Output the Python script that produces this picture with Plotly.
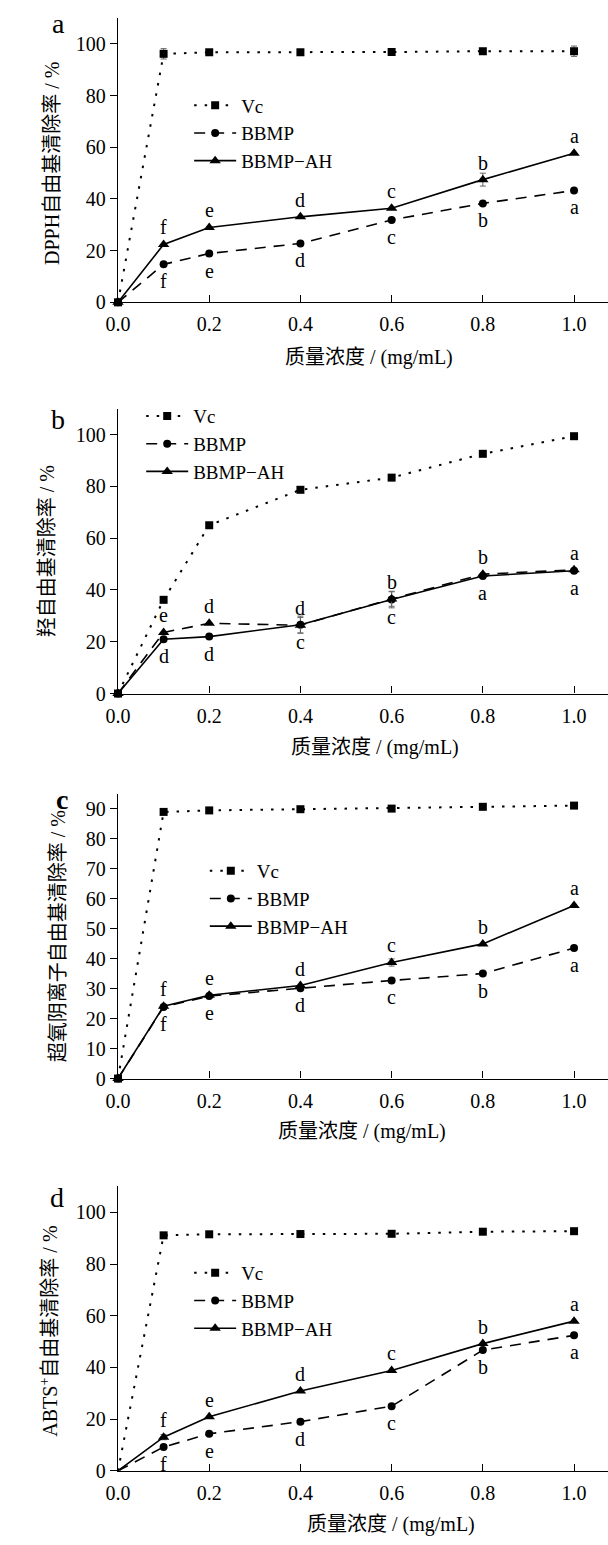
import plotly.graph_objects as go

# ---------------- data ----------------
conc = [0, 0.1, 0.2, 0.4, 0.6, 0.8, 1.0]
xtick_vals = [0.0, 0.2, 0.4, 0.6, 0.8, 1.0]
xtick_text = ["0.0", "0.2", "0.4", "0.6", "0.8", "1.0"]
series_names = ["Vc", "BBMP", "BBMP−AH"]
N = None  # no visible error bar

# (a) DPPH
a_vc = [0, 96.2, 96.8, 96.8, 96.9, 97.2, 97.2]
a_vc_err = [N, 2.0, N, N, N, N, 2.0]
a_bbmp = [0, 14.7, 18.9, 22.8, 31.9, 38.3, 43.3]
a_bbmp_err = [N, N, N, N, N, N, N]
a_ah = [0, 22.4, 29.0, 33.1, 36.4, 47.5, 57.7]
a_ah_err = [N, N, N, N, N, 2.5, N]
a_up = ["f", "e", "d", "c", "b", "a"]
a_low = ["f", "e", "d", "c", "b", "a"]

# (b) hydroxyl
b_vc = [0, 36.2, 65.0, 78.7, 83.4, 92.6, 99.4]
b_vc_err = [N, N, N, N, N, N, N]
b_bbmp = [0, 21.0, 22.0, 26.6, 36.3, 45.4, 47.4]
b_bbmp_err = [N, N, N, 3.3, 3.2, N, N]
b_ah = [0, 23.6, 27.1, 26.4, 36.5, 46.1, 47.8]
b_ah_err = [N, N, N, 3.0, 2.8, N, N]
b_up = ["e", "d", "d", "b", "b", "a"]
b_low = ["d", "d", "c", "c", "a", "a"]

# (c) superoxide anion
c_vc = [0, 88.9, 89.4, 89.8, 90.0, 90.6, 91.0]
c_vc_err = [N, N, N, N, N, N, N]
c_bbmp = [0, 23.9, 27.5, 30.1, 32.7, 35.0, 43.5]
c_bbmp_err = [N, N, N, N, N, N, 0.8]
c_ah = [0, 24.1, 27.8, 31.0, 38.7, 44.9, 57.7]
c_ah_err = [N, N, N, N, 1.2, N, N]
c_up = ["f", "e", "d", "c", "b", "a"]
c_low = ["f", "e", "d", "c", "b", "a"]

# (d) ABTS+
d_vc = [0, 91.1, 91.5, 91.6, 91.7, 92.5, 92.7]
d_vc_err = [N, N, N, N, N, N, N]
d_bbmp = [0, 9.2, 14.3, 19.0, 25.0, 46.7, 52.4]
d_bbmp_err = [N, N, N, N, N, N, N]
d_ah = [0, 13.0, 20.9, 30.9, 38.8, 49.2, 57.9]
d_ah_err = [N, 1.0, N, N, N, N, N]
d_up = ["f", "e", "d", "c", "b", "a"]
d_low = ["f", "e", "d", "c", "b", "a"]

y_titles = ["DPPH自由基清除率 / %", "羟自由基清除率 / %",
            "超氧阴离子自由基清除率 / %", "ABTS<sup>+</sup>自由基清除率 / %"]
x_title = "质量浓度 / (mg/mL)"
panel_labels = ["a", "b", "c", "d"]

# ---------------- layout geometry (pixels) ----------------
W, H = 608, 1545
panels = [
    dict(vc=a_vc, vce=a_vc_err, bb=a_bbmp, bbe=a_bbmp_err, ah=a_ah, ahe=a_ah_err,
         up=a_up, low=a_low, top=18.3, bot=304.5, ymax=110, dt=20, swap=False,
         origin=True, leg=(180, 87), xt=(364, 360), yt=(40, 165), lab=(46, 24)),
    dict(vc=b_vc, vce=b_vc_err, bb=b_bbmp, bbe=b_bbmp_err, ah=b_ah, ahe=b_ah_err,
         up=b_up, low=b_low, top=411.7, bot=698.5, ymax=110, dt=20, swap=True,
         origin=True, leg=(131, 400), xt=(370, 753), yt=(35, 555), lab=(46, 423)),
    dict(vc=c_vc, vce=c_vc_err, bb=c_bbmp, bbe=c_bbmp_err, ah=c_ah, ahe=c_ah_err,
         up=c_up, low=c_low, top=799.3, bot=1086.3, ymax=95, dt=10, swap=False,
         origin=True, leg=(196, 858), xt=(357, 1140), yt=(46, 943), lab=(50, 805)),
    dict(vc=d_vc, vce=d_vc_err, bb=d_bbmp, bbe=d_bbmp_err, ah=d_ah, ahe=d_ah_err,
         up=d_up, low=d_low, top=1195, bot=1481.3, ymax=110, dt=20, swap=False,
         origin=False, leg=(180, 1263), xt=(386, 1535), yt=(37, 1341), lab=(45, 1206)),
]

FONT = "'Liberation Serif', 'Times New Roman', Times, 'Noto Sans CJK SC', serif"
x_left = 107.3
x_range_max = (W - x_left) / 466.0

fig = go.Figure()
annotations = []
layout = dict(
    width=W, height=H, margin=dict(l=0, r=0, t=0, b=0),
    paper_bgcolor="white", plot_bgcolor="white",
    font=dict(family=FONT, size=20, color="black"),
)

VC_DASH = "2.5px,8px"
BB_DASH = "11px,8px"
SQ, CI, TR = 8, 8, 10

for i, p in enumerate(panels):
    n = i + 1
    xa = "x" if n == 1 else f"x{n}"
    ya = "y" if n == 1 else f"y{n}"
    leg = "legend" if n == 1 else f"legend{n}"
    first = 1 if p["origin"] else 0
    sizes_sq = [SQ * first] + [SQ] * (len(conc) - 1)
    sizes_ci = [CI * first] + [CI] * (len(conc) - 1)
    sizes_tr = [TR * first] + [TR] * (len(conc) - 1)
    err_style = dict(type="data", visible=True, color="#666", thickness=1, width=3)

    bb_dash = "solid" if p["swap"] else BB_DASH
    ah_dash = BB_DASH if p["swap"] else "solid"

    def mk(sym, sizes):
        return dict(symbol=sym, size=sizes, color="black", opacity=1,
                    line=dict(width=0, color="black"))

    fig.add_trace(go.Scatter(
        x=conc, y=p["vc"], name=series_names[0], mode="lines+markers",
        xaxis=xa, yaxis=ya, showlegend=False, cliponaxis=False,
        line=dict(color="black", width=2, dash=VC_DASH),
        marker=mk("square", sizes_sq),
        error_y=dict(array=p["vce"], **err_style)))
    fig.add_trace(go.Scatter(
        x=conc, y=p["bb"], name=series_names[1], mode="lines+markers",
        xaxis=xa, yaxis=ya, showlegend=False, cliponaxis=False,
        line=dict(color="black", width=1.6, dash=bb_dash),
        marker=mk("circle", sizes_ci),
        error_y=dict(array=p["bbe"], **err_style)))
    fig.add_trace(go.Scatter(
        x=conc, y=p["ah"], name=series_names[2], mode="lines+markers",
        xaxis=xa, yaxis=ya, showlegend=False, cliponaxis=False,
        line=dict(color="black", width=1.6, dash=ah_dash),
        marker=mk("triangle-up", sizes_tr),
        error_y=dict(array=p["ahe"], **err_style)))

    # legend keys, styled as printed in the original figure
    for nm, dsh, sym, sz, lw in [(series_names[0], VC_DASH, "square", SQ, 2),
                                 (series_names[1], BB_DASH, "circle", CI, 1.6),
                                 (series_names[2], "solid", "triangle-up", TR, 1.6)]:
        fig.add_trace(go.Scatter(
            x=[None], y=[None], name=nm, mode="lines+markers",
            xaxis=xa, yaxis=ya, legend=leg, showlegend=True,
            line=dict(color="black", width=lw, dash=dsh),
            marker=dict(symbol=sym, size=sz, color="black", opacity=1,
                        line=dict(width=0))))

    ydom = [1 - p["bot"] / H, 1 - p["top"] / H]
    layout["xaxis" if n == 1 else f"xaxis{n}"] = dict(
        domain=[x_left / W, 1], range=[0, x_range_max], anchor=ya,
        showline=True, linecolor="black", linewidth=1.3, showgrid=False, zeroline=False,
        ticks="inside", ticklen=7, tickcolor="black", tickwidth=1.2,
        tickvals=xtick_vals, ticktext=xtick_text, ticklabelstandoff=4,
        tickfont=dict(family=FONT, size=20, color="black"))
    layout["yaxis" if n == 1 else f"yaxis{n}"] = dict(
        domain=ydom, range=[0, p["ymax"]], anchor=xa,
        showline=True, linecolor="black", linewidth=1.3, showgrid=False, zeroline=False,
        ticks="outside", ticklen=7, tickcolor="black", tickwidth=1.2,
        tick0=0, dtick=p["dt"],
        tickfont=dict(family=FONT, size=20, color="black"))
    layout[leg] = dict(
        x=p["leg"][0] / W, y=1 - p["leg"][1] / H, xanchor="left", yanchor="top",
        bgcolor="rgba(0,0,0,0)", borderwidth=0, tracegroupgap=0,
        font=dict(family=FONT, size=19, color="black"), itemwidth=42)

    # significance letters
    for k in range(1, len(conc)):
        hi = max(p["bb"][k], p["ah"][k])
        lo = min(p["bb"][k], p["ah"][k])
        annotations.append(dict(
            x=conc[k], y=hi, xref=xa, yref=ya, text=p["up"][k - 1], showarrow=False,
            yshift=17, font=dict(family=FONT, size=20, color="black")))
        annotations.append(dict(
            x=conc[k], y=lo, xref=xa, yref=ya, text=p["low"][k - 1], showarrow=False,
            yshift=-17, font=dict(family=FONT, size=20, color="black")))

    # axis titles
    annotations.append(dict(
        x=p["xt"][0] / W, y=1 - p["xt"][1] / H, xref="paper", yref="paper",
        text=x_title, showarrow=False, xanchor="center", yanchor="middle",
        font=dict(family=FONT, size=20, color="black")))
    annotations.append(dict(
        x=p["yt"][0] / W, y=1 - p["yt"][1] / H, xref="paper", yref="paper",
        text=y_titles[i], showarrow=False, textangle=-90, xanchor="center",
        yanchor="middle", font=dict(family=FONT, size=20, color="black")))
    # panel label
    lab_text = "<b>c</b>" if panel_labels[i] == "c" else panel_labels[i]
    annotations.append(dict(
        x=p["lab"][0] / W, y=1 - p["lab"][1] / H, xref="paper", yref="paper",
        text=lab_text, showarrow=False, xanchor="center", yanchor="middle",
        font=dict(family=FONT, size=28, color="black")))

layout["annotations"] = annotations
fig.update_layout(**layout)
fig.write_html("out.html",
               config={"displayModeBar": False},
               post_script="document.body.style.margin='0';"
                           "document.body.style.overflow='hidden';")
